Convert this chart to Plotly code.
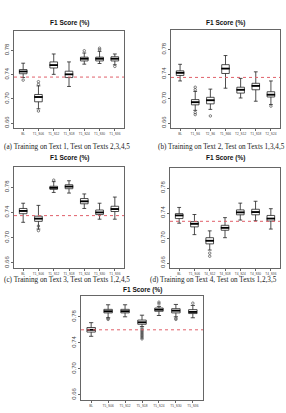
import plotly.graph_objects as go

W, H = 286, 413

# ---------------- data ----------------
cats_a = ["BL", "T1_S06", "T1_S12", "T1_S18", "T1_S24", "T1_S30", "T1_S36"]
q1_a = [0.7415, 0.6952, 0.7510, 0.7352, 0.7626, 0.7626, 0.7626]
med_a = [0.7452, 0.7031, 0.7557, 0.7405, 0.7663, 0.7663, 0.7663]
q3_a = [0.7484, 0.7073, 0.7610, 0.7457, 0.7689, 0.7689, 0.7695]
lo_a = [0.7352, 0.6837, 0.7405, 0.7205, 0.7573, 0.7584, 0.7563]
hi_a = [0.7589, 0.7215, 0.7741, 0.7610, 0.7757, 0.7784, 0.7741]
outx_a = ["BL", "T1_S06", "T1_S06", "T1_S06", "T1_S24", "T1_S30", "T1_S30", "T1_S36"]
outy_a = [0.7310, 0.7284, 0.7240, 0.6800, 0.7794, 0.7836, 0.7810, 0.7536]
base_a = 0.736

cats_b = ["BL", "T1_S6", "T2_S6", "T1_S66", "T2_S12", "T1_S18", "T2_S24"]
q1_b = [0.7378, 0.6898, 0.6914, 0.7410, 0.7090, 0.7144, 0.7026]
med_b = [0.7421, 0.6941, 0.6973, 0.7490, 0.7144, 0.7208, 0.7064]
q3_b = [0.7453, 0.6984, 0.7021, 0.7554, 0.7186, 0.7250, 0.7112]
lo_b = [0.7288, 0.6808, 0.6824, 0.7170, 0.7010, 0.6957, 0.6904]
hi_b = [0.7560, 0.7117, 0.7155, 0.7703, 0.7330, 0.7437, 0.7288]
outx_b = ["T1_S6", "T1_S6", "T1_S6", "T1_S6", "T2_S6", "T2_S24"]
outy_b = [0.7186, 0.7144, 0.6771, 0.6739, 0.6717, 0.6877]
base_b = 0.7346

cats_c = ["BL", "T1_S06", "T1_S12", "T1_S18", "T1_S24", "T1_S30", "T1_S36"]
q1_c = [0.7380, 0.7259, 0.7766, 0.7776, 0.7537, 0.7366, 0.7415]
med_c = [0.7424, 0.7302, 0.7790, 0.7810, 0.7576, 0.7400, 0.7454]
q3_c = [0.7463, 0.7341, 0.7815, 0.7839, 0.7620, 0.7439, 0.7498]
lo_c = [0.7244, 0.7137, 0.7717, 0.7707, 0.7463, 0.7293, 0.7293]
hi_c = [0.7546, 0.7512, 0.7888, 0.7902, 0.7693, 0.7546, 0.7644]
outx_c = ["T1_S06", "T1_S06", "T1_S12"]
outy_c = [0.7185, 0.7112, 0.7912]
base_c = 0.735

cats_d = ["BL", "T1_S06", "T4_S12", "T4_S18", "T4_S24", "T4_S30", "T4_S36"]
q1_d = [0.7311, 0.7178, 0.6906, 0.7124, 0.7371, 0.7371, 0.7272]
med_d = [0.7361, 0.7227, 0.6956, 0.7163, 0.7410, 0.7415, 0.7311]
q3_d = [0.7390, 0.7262, 0.7005, 0.7203, 0.7450, 0.7460, 0.7361]
lo_d = [0.7237, 0.7054, 0.6807, 0.7005, 0.7287, 0.7277, 0.7143]
hi_d = [0.7489, 0.7376, 0.7114, 0.7326, 0.7558, 0.7588, 0.7469]
outx_d = ["T4_S12", "T4_S12"]
outy_d = [0.6758, 0.6709]
base_d = 0.7267

cats_e = ["BL", "T5_S06", "T5_S12", "T5_S18", "T5_S24", "T5_S30", "T5_S36"]
q1_e = [0.7565, 0.7860, 0.7860, 0.7685, 0.7885, 0.7860, 0.7850]
med_e = [0.7600, 0.7885, 0.7885, 0.7715, 0.7910, 0.7895, 0.7875]
q3_e = [0.7635, 0.7915, 0.7915, 0.7750, 0.7935, 0.7925, 0.7910]
lo_e = [0.7500, 0.7785, 0.7800, 0.7650, 0.7820, 0.7800, 0.7785]
hi_e = [0.7710, 0.7985, 0.7985, 0.7825, 0.7960, 0.7990, 0.7975]
outx_e = ["T5_S06", "T5_S06",
          "T5_S18", "T5_S18", "T5_S18", "T5_S18", "T5_S18", "T5_S18", "T5_S18", "T5_S18", "T5_S18",
          "T5_S24", "T5_S24", "T5_S30", "T5_S30", "T5_S36"]
outy_e = [0.7775, 0.7760,
          0.7625, 0.7600, 0.7580, 0.7560, 0.7540, 0.7520, 0.7500, 0.7480, 0.7460,
          0.8025, 0.8000, 0.7775, 0.7760, 0.8010]
base_e = 0.760

y_ticks = [0.66, 0.70, 0.74, 0.78]
y_range = [0.652, 0.812]

title_text = "<b>F1 Score (%)</b>"
captions = [
    "(a) Training on Text 1, Test on Texts 2,3,4,5",
    "(b) Training on Text 2, Test on Texts 1,3,4,5",
    "(c) Training on Text 3, Test on Texts 1,2,4,5",
    "(d) Training on Text 4, Test on Texts 1,2,3,5",
]

# ---------------- layout (pixel boxes: left, top, right, bottom, title y) ----------------
panels = [
    (cats_a, q1_a, med_a, q3_a, lo_a, hi_a, outx_a, outy_a, base_a, (14, 31, 124, 128, 23)),
    (cats_b, q1_b, med_b, q3_b, lo_b, hi_b, outx_b, outy_b, base_b, (171, 30, 280, 128, 23)),
    (cats_c, q1_c, med_c, q3_c, lo_c, hi_c, outx_c, outy_c, base_c, (14, 167, 124, 268, 158)),
    (cats_d, q1_d, med_d, q3_d, lo_d, hi_d, outx_d, outy_d, base_d, (170, 168, 280, 268, 158)),
    (cats_e, q1_e, med_e, q3_e, lo_e, hi_e, outx_e, outy_e, base_e, (81, 296, 203, 400, 290)),
]

fig = go.Figure()
layout = dict(
    width=W, height=H, margin=dict(l=0, r=0, t=0, b=0),
    paper_bgcolor="white", plot_bgcolor="white", showlegend=False,
    shapes=[], annotations=[],
)

for i, (cats, q1, med, q3, lo, hi, ox, oy, base, box) in enumerate(panels):
    n = "" if i == 0 else str(i + 1)
    xa, ya = "x" + n, "y" + n
    L, T, R, B, TY = box
    layout["xaxis" + n] = dict(
        domain=[L / W, R / W], anchor=ya, type="category",
        categoryorder="array", categoryarray=cats,
        range=[-0.6, len(cats) - 0.4],
        showline=True, mirror=True, linecolor="#666", linewidth=1,
        ticks="outside", ticklen=2, tickcolor="#666",
        tickfont=dict(size=3.2, color="#444", family="Liberation Sans"),
        tickangle=0, showgrid=False, zeroline=False, fixedrange=True,
    )
    layout["yaxis" + n] = dict(
        domain=[1 - B / H, 1 - T / H], anchor=xa, range=y_range,
        tickvals=y_ticks, ticktext=[f"{v:.2f}" for v in y_ticks],
        showline=True, mirror=True, linecolor="#666", linewidth=1,
        ticks="outside", ticklen=2, tickcolor="#666",
        tickfont=dict(size=6, color="#444", family="Liberation Sans"),
        tickangle=-90, showgrid=False, zeroline=False, fixedrange=True,
    )
    fig.add_trace(go.Box(
        x=cats, q1=q1, median=med, q3=q3, lowerfence=lo, upperfence=hi,
        xaxis=xa, yaxis=ya, width=0.5, fillcolor="white",
        line=dict(color="#222", width=0.8), whiskerwidth=0.5, boxpoints=False,
        hoverinfo="skip",
    ))
    fig.add_trace(go.Scatter(
        x=cats, y=med, mode="markers", xaxis=xa, yaxis=ya,
        marker=dict(symbol="line-ew-open", size=6, color="black",
                    line=dict(color="black", width=1.8)),
        hoverinfo="skip",
    ))
    fig.add_trace(go.Scatter(
        x=ox, y=oy, mode="markers", xaxis=xa, yaxis=ya,
        marker=dict(symbol="circle-open", size=2.5, color="#333",
                    line=dict(color="#333", width=0.6)),
        hoverinfo="skip",
    ))
    layout["shapes"].append(dict(
        type="line", xref=xa + " domain", yref=ya, x0=0, x1=1, y0=base, y1=base,
        line=dict(color="#e0606a", width=1, dash="dot"),
    ))
    layout["annotations"].append(dict(
        text=title_text, xref="paper", yref="paper",
        x=(L + R) / 2 / W, y=1 - TY / H, showarrow=False,
        xanchor="center", yanchor="middle",
        font=dict(size=6.5, family="Liberation Sans", color="#111"),
    ))

cap_pos = [(2, 147), (156, 147), (2, 280), (148, 280)]
for txt, (cx, cy) in zip(captions, cap_pos):
    layout["annotations"].append(dict(
        text=txt, xref="paper", yref="paper", x=cx / W, y=1 - cy / H,
        showarrow=False, xanchor="left", yanchor="middle",
        font=dict(size=7.2, family="Liberation Serif", color="#222"),
    ))

fig.update_layout(**layout)
fig.write_html("out.html")
